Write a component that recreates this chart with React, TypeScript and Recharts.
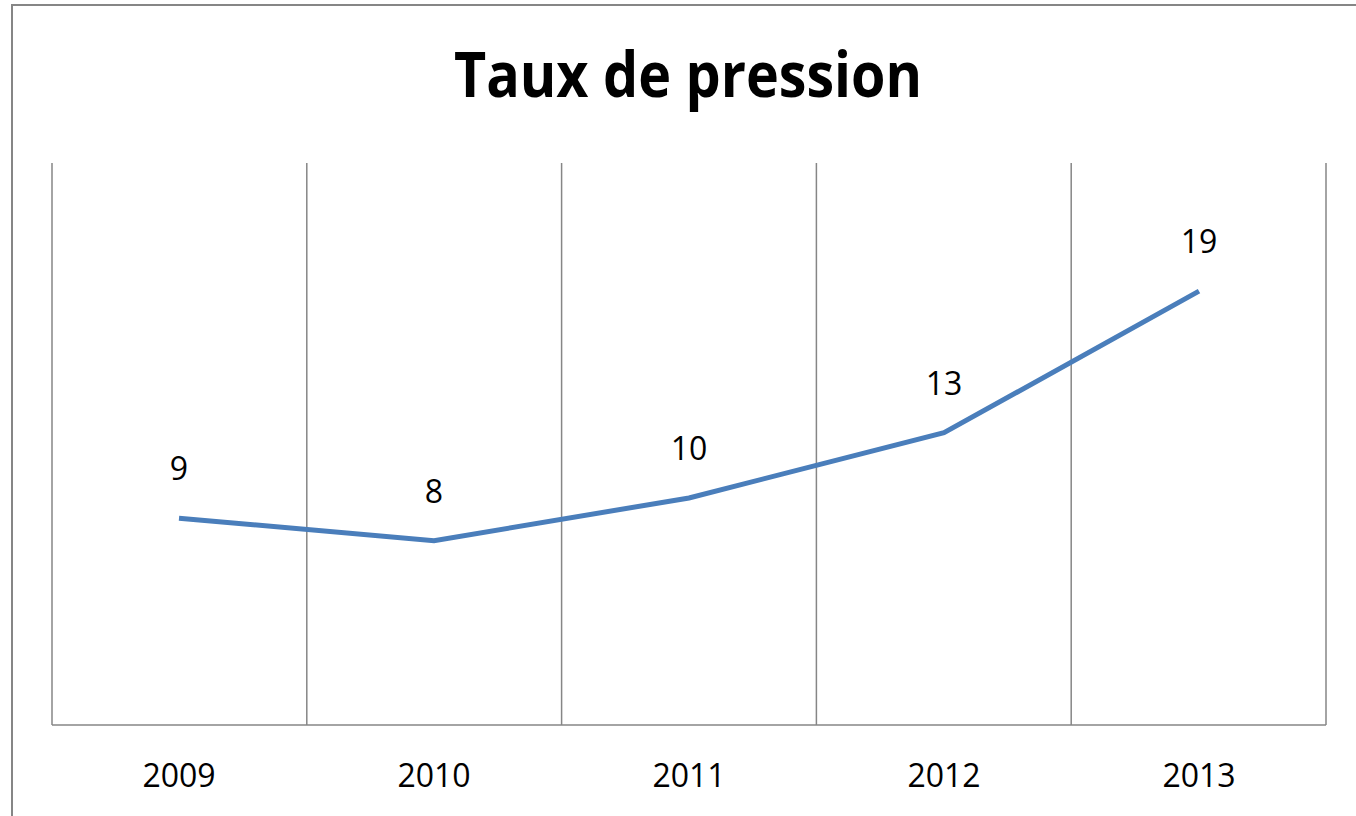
import { CartesianGrid, LabelList, Line, LineChart, XAxis, YAxis } from "recharts";

const years = ["2009", "2010", "2011", "2012", "2013"];
const rates = [9.2, 8.2, 10.1, 13.0, 19.3];

const data = years.map((year, i) => ({ year, rate: rates[i] }));

const GRID = "#868686";
const FONT = "'Open Sans', sans-serif";

// vertical lines sit on the category boundaries, not on the ticks
const boundaryLines = ({ offset }: any) =>
  Array.from({ length: years.length + 1 }, (_, i) => offset.left + (i * offset.width) / years.length);

export default function App() {
  return (
    <div style={{ position: "absolute", left: 0, top: 0, width: 1356, height: 816, overflow: "hidden", background: "#fff" }}>
      <div
        style={{
          position: "absolute",
          left: 11,
          top: 4,
          width: 1400,
          height: 900,
          border: `2px solid ${GRID}`,
        }}
      />
      <svg width={1356} height={120} style={{ position: "absolute", left: 0, top: 0 }}>
        <text
          x={688}
          y={97}
          textAnchor="middle"
          fontFamily={FONT}
          fontWeight={700}
          fontSize={62}
          textLength={468}
          lengthAdjust="spacingAndGlyphs"
          fill="#000"
        >
          Taux de pression
        </text>
      </svg>
      <div style={{ position: "absolute", left: 0, top: 0 }}>
        <LineChart width={1356} height={816} data={data} margin={{ top: 163, right: 30, bottom: 31, left: 52 }}>
          <CartesianGrid horizontal={false} stroke={GRID} strokeWidth={1.5} verticalCoordinatesGenerator={boundaryLines} />
          <XAxis
            dataKey="year"
            height={60}
            padding={{ left: 127, right: 127 }}
            axisLine={{ stroke: GRID, strokeWidth: 1.5 }}
            tickLine={false}
            tickSize={0}
            tickMargin={39}
            tick={{ fill: "#000", fontSize: 32, fontFamily: FONT }}
          />
          <YAxis hide domain={[0, 25]} />
          <Line
            type="linear"
            dataKey="rate"
            stroke="#4a7ebb"
            strokeWidth={5}
            dot={false}
            isAnimationActive={false}
          >
            <LabelList
              dataKey="rate"
              position="top"
              offset={38}
              fill="#000"
              fontSize={32}
              fontFamily={FONT}
              formatter={(v: any) => Math.round(Number(v))}
            />
          </Line>
        </LineChart>
      </div>
    </div>
  );
}
